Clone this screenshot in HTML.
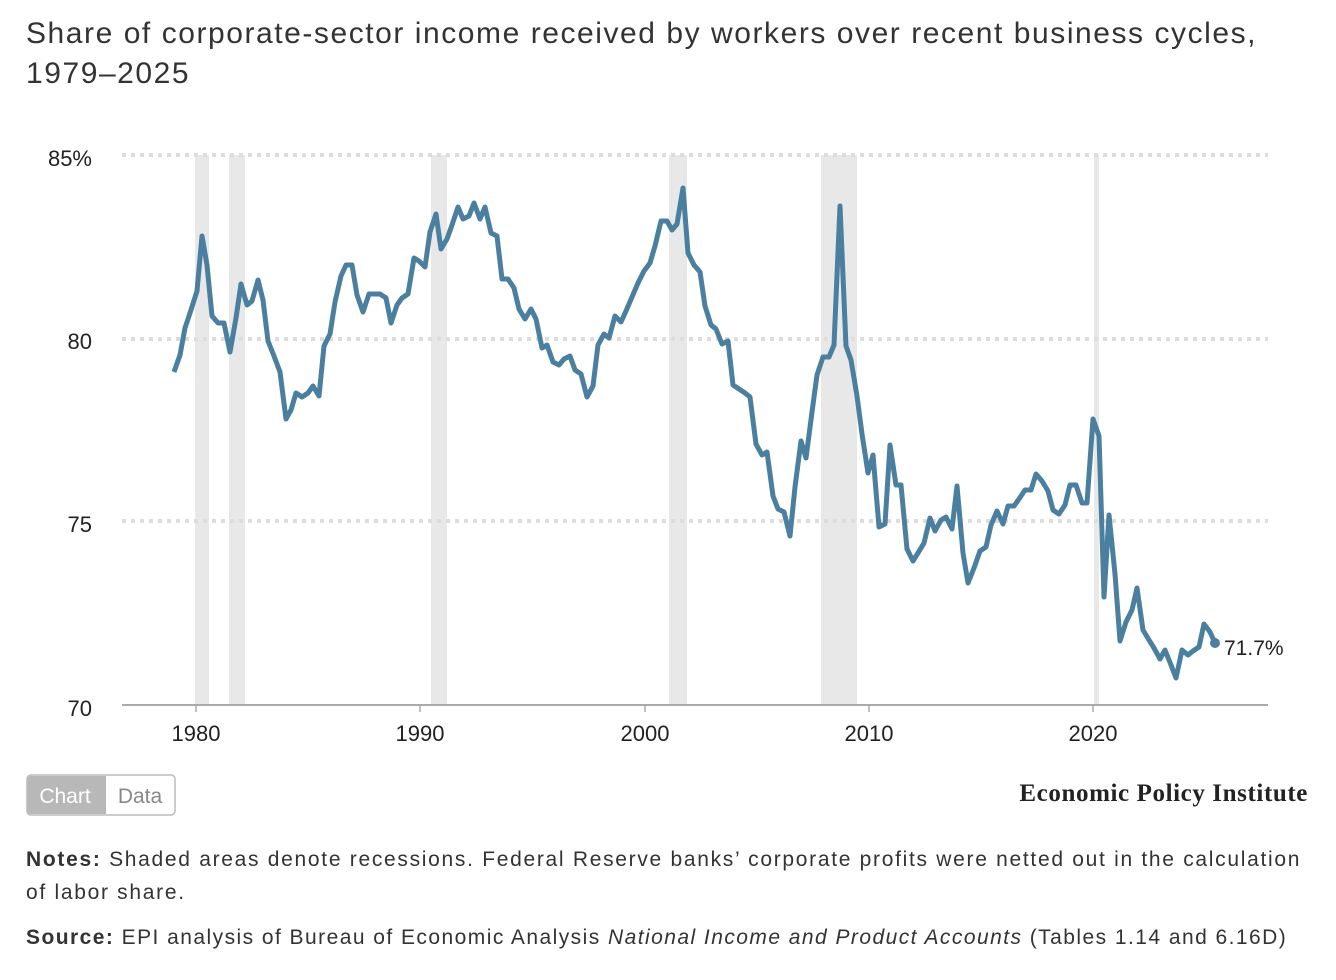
<!DOCTYPE html>
<html><head><style>
body{margin:0;width:1336px;height:980px;background:#fff;font-family:"Liberation Sans",sans-serif;color:#222;position:relative;overflow:hidden}
.t{position:absolute;left:26px;top:14px;font-size:30px;line-height:40px;color:#333;letter-spacing:1.55px;white-space:nowrap}
.n{position:absolute;left:26px;font-size:21px;line-height:33px;color:#333;white-space:nowrap}
</style></head><body>
<div class="t">Share of corporate-sector income received by workers over recent business cycles,<br>1979–2025</div>
<svg width="1336" height="980" style="position:absolute;left:0;top:0">
<g fill="#e8e8e8">
<rect x="195" y="155" width="14" height="550"/><rect x="229" y="155" width="16" height="550"/>
<rect x="431" y="155" width="16" height="550"/><rect x="669" y="155" width="18" height="550"/>
<rect x="821" y="155" width="36" height="550"/><rect x="1094" y="155" width="5" height="550"/>
</g>
<g stroke="#ddd" stroke-width="4" stroke-dasharray="4,5">
<line x1="122" x2="1268" y1="155" y2="155"/><line x1="122" x2="1268" y1="339" y2="339"/><line x1="122" x2="1268" y1="521" y2="521"/>
</g>
<line x1="122" x2="1268" y1="705" y2="705" stroke="#aaa" stroke-width="2"/>
<g stroke="#aaa" stroke-width="1.5"><line x1="196" x2="196" y1="705" y2="712"/><line x1="420" x2="420" y1="705" y2="712"/><line x1="645" x2="645" y1="705" y2="712"/><line x1="869" x2="869" y1="705" y2="712"/><line x1="1093" x2="1093" y1="705" y2="712"/></g>
<g font-size="22" fill="#222">
<text x="92" y="166" text-anchor="end">85%</text><text x="92" y="349" text-anchor="end">80</text>
<text x="92" y="532" text-anchor="end">75</text><text x="92" y="716" text-anchor="end">70</text>
<g text-anchor="middle"><text x="196" y="741">1980</text><text x="420" y="741">1990</text><text x="645" y="741">2000</text><text x="869" y="741">2010</text><text x="1093" y="741">2020</text></g>
<text x="1224" y="655" font-size="21">71.7%</text>
</g>
<polyline fill="none" stroke="#4a7fa0" stroke-width="5" stroke-linejoin="round" points="174,372 180,355 185,328 191,310 197,291 202,236 207,265 212,316 218,323 224,323 230,352 236,318 241,284 247,305 252,301 258,280 263,300 268,341 274,356 280,372 286,419 291,410 296,393 302,397 308,393 313,386 319,396 324,346 330,334 335,302 341,276 346,265 352,265 357,295 363,312 369,294 374,294 380,294 386,298 391,323 397,305 402,298 408,294 414,258 419,261 425,267 430,232 436,214 441,249 447,239 452,225 458,207 463,219 469,216 474,203 480,219 485,207 491,233 497,236 502,279 508,279 514,288 519,309 525,319 531,309 536,319 542,348 547,345 553,362 559,365 564,359 570,356 575,370 581,374 587,397 593,386 598,345 604,334 609,338 615,316 621,322 626,311 632,297 638,283 644,271 650,263 655,246 661,221 667,221 672,230 677,224 683,188 688,253 694,265 700,272 705,306 711,325 716,329 722,344 728,341 733,385 739,389 745,393 750,397 756,444 762,455 767,452 773,496 778,509 784,512 790,536 795,487 801,441 806,458 812,412 817,375 823,357 829,357 834,345 840,206 846,346 851,360 857,396 862,434 868,473 873,455 879,527 885,524 890,445 896,485 901,485 907,549 913,561 918,553 924,543 930,518 935,531 941,520 946,517 952,529 957,486 963,553 968,583 974,568 980,551 986,547 991,525 997,511 1003,524 1008,506 1014,506 1019,499 1025,490 1031,490 1036,474 1042,481 1048,491 1053,510 1059,514 1065,505 1070,485 1076,485 1082,503 1087,503 1093,419 1099,436 1104,597 1109,515 1115,574 1120,641 1126,622 1132,610 1137,588 1143,630 1149,640 1154,648 1160,659 1165,650 1171,665 1176,678 1182,650 1188,655 1193,651 1199,647 1204,624 1210,632 1215,643"/>
<circle cx="1215" cy="643" r="5" fill="#4a7fa0"/>
<rect x="27" y="775" width="148" height="40" rx="4" fill="#fff" stroke="#bbb" stroke-width="1.5"/>
<path d="M31,776 h75 v38 h-75 a4,4 0 0 1 -4,-4 v-30 a4,4 0 0 1 4,-4z" fill="#b8b8b8"/>
<text x="65" y="803" font-size="21" fill="#fff" text-anchor="middle">Chart</text>
<text x="140" y="803" font-size="21" fill="#888" text-anchor="middle">Data</text>
<text x="1308" y="801" font-size="25" font-weight="bold" font-family="Liberation Serif,serif" text-anchor="end" fill="#222" letter-spacing="0.6">Economic Policy Institute</text>
</svg>
<div class="n" style="top:843px;letter-spacing:1.7px"><b>Notes:</b> Shaded areas denote recessions. Federal Reserve banks’ corporate profits were netted out in the calculation<br>of labor share.</div>
<div class="n" style="top:921px;letter-spacing:1.45px"><b>Source:</b> EPI analysis of Bureau of Economic Analysis <i>National Income and Product Accounts</i> (Tables 1.14 and 6.16D)</div>
</body></html>
